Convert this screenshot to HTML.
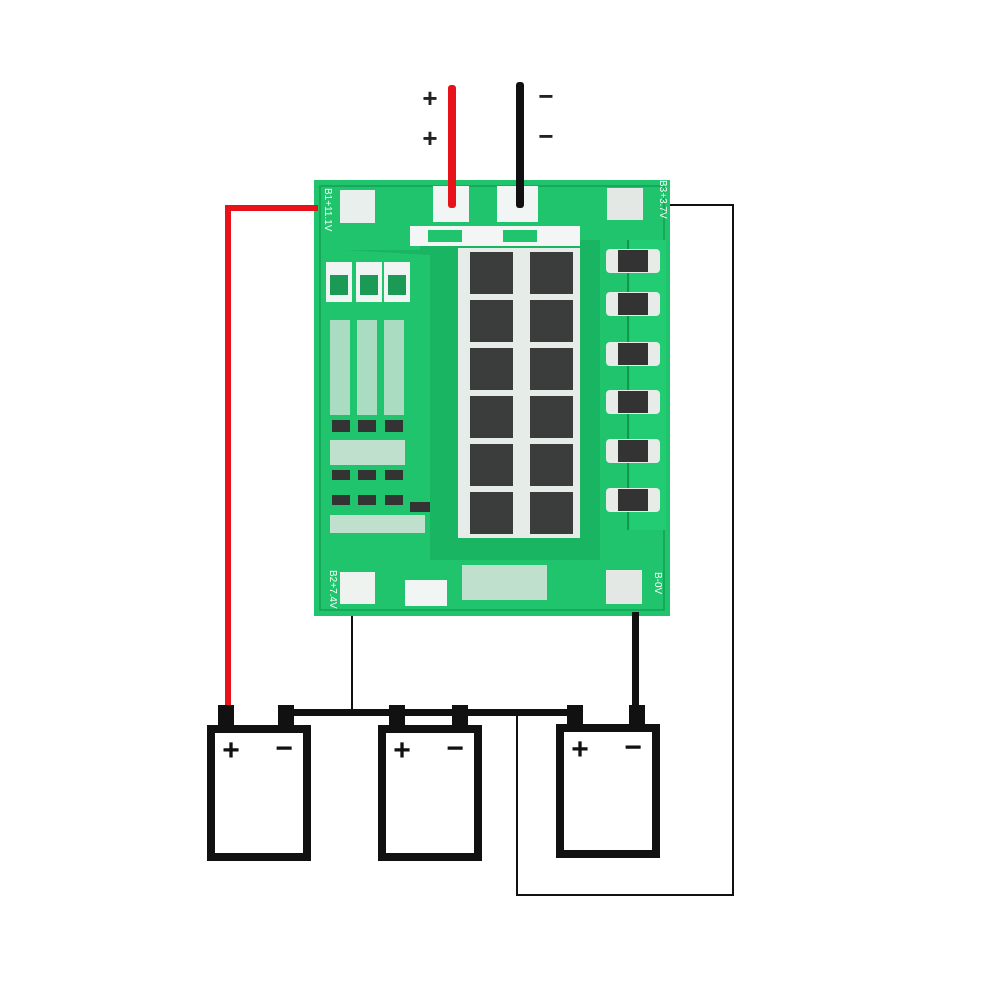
<!DOCTYPE html>
<html><head><style>
body{margin:0;background:#fff}
</style></head><body>
<svg width="1000" height="1000" viewBox="0 0 1000 1000" xmlns="http://www.w3.org/2000/svg">
<rect width="1000" height="1000" fill="#fff"/>
<g stroke="#111" stroke-width="2" fill="none">
<polyline points="668,205 733,205 733,895 517,895 517,712"/>
<line x1="352" y1="612" x2="352" y2="712"/>
</g>
<rect x="314" y="180" width="356" height="436" fill="#1fc46d"/>
<rect x="320" y="186" width="344" height="424" fill="none" stroke="#17a95b" stroke-width="2"/>
<path d="M345 250 L420 250 L420 240 L600 240 L600 560 L430 560 L430 255 Z" fill="#19b562"/>
<rect x="630" y="240" width="36" height="290" fill="#22cc73"/>
<line x1="628" y1="240" x2="628" y2="530" stroke="#14964f" stroke-width="2"/>
<rect x="340" y="190" width="35" height="33" fill="#e8efec"/>
<rect x="433" y="186" width="36" height="36" fill="#f1f5f3"/>
<rect x="497" y="186" width="41" height="36" fill="#f1f5f3"/>
<rect x="607" y="188" width="36" height="32" fill="#e4e8e4"/>
<rect x="410" y="226" width="170" height="20" fill="#f4f6f5"/>
<rect x="428" y="230" width="34" height="12" fill="#1fc46d"/>
<rect x="503" y="230" width="34" height="12" fill="#1fc46d"/>
<rect x="340" y="572" width="35" height="32" fill="#eef3f0"/>
<rect x="405" y="580" width="42" height="26" fill="#f1f5f3"/>
<rect x="606" y="570" width="36" height="34" fill="#e4e8e4"/>
<g fill="#f0f4f2">
<rect x="326" y="262" width="26" height="40"/><rect x="356" y="262" width="26" height="40"/><rect x="384" y="262" width="26" height="40"/>
</g>
<g fill="#1a9a55">
<rect x="330" y="275" width="18" height="20"/><rect x="360" y="275" width="18" height="20"/><rect x="388" y="275" width="18" height="20"/>
</g>
<g fill="#a9dcc0">
<rect x="330" y="320" width="20" height="95"/><rect x="357" y="320" width="20" height="95"/><rect x="384" y="320" width="20" height="95"/>
</g>
<g fill="#333">
<rect x="332" y="420" width="18" height="12"/><rect x="358" y="420" width="18" height="12"/><rect x="385" y="420" width="18" height="12"/>
<rect x="332" y="470" width="18" height="10"/><rect x="358" y="470" width="18" height="10"/><rect x="385" y="470" width="18" height="10"/>
<rect x="332" y="495" width="18" height="10"/><rect x="358" y="495" width="18" height="10"/><rect x="385" y="495" width="18" height="10"/>
<rect x="410" y="502" width="20" height="10"/>
<rect x="478" y="578" width="20" height="8"/><rect x="525" y="578" width="20" height="8"/>
</g>
<g fill="#bfe0cd">
<rect x="330" y="440" width="75" height="25"/><rect x="330" y="515" width="95" height="18"/>
<rect x="462" y="565" width="85" height="35"/>
</g>
<rect x="458" y="248" width="122" height="290" fill="#e6ece8"/>
<g fill="#3a3d3c">
<rect x="470" y="252" width="43" height="42"/><rect x="530" y="252" width="43" height="42"/>
<rect x="470" y="300" width="43" height="42"/><rect x="530" y="300" width="43" height="42"/>
<rect x="470" y="348" width="43" height="42"/><rect x="530" y="348" width="43" height="42"/>
<rect x="470" y="396" width="43" height="42"/><rect x="530" y="396" width="43" height="42"/>
<rect x="470" y="444" width="43" height="42"/><rect x="530" y="444" width="43" height="42"/>
<rect x="470" y="492" width="43" height="42"/><rect x="530" y="492" width="43" height="42"/>
</g>
<g fill="#e8ece9">
<rect x="606" y="249" width="54" height="24" rx="4"/><rect x="606" y="292" width="54" height="24" rx="4"/>
<rect x="606" y="342" width="54" height="24" rx="4"/><rect x="606" y="390" width="54" height="24" rx="4"/>
<rect x="606" y="439" width="54" height="24" rx="4"/><rect x="606" y="488" width="54" height="24" rx="4"/>
</g>
<g fill="#333">
<rect x="618" y="250" width="30" height="22"/><rect x="618" y="293" width="30" height="22"/>
<rect x="618" y="343" width="30" height="22"/><rect x="618" y="391" width="30" height="22"/>
<rect x="618" y="440" width="30" height="22"/><rect x="618" y="489" width="30" height="22"/>
</g>
<g font-family="Liberation Sans, sans-serif" font-size="10" fill="#fff">
<text transform="translate(325,188) rotate(90)">B1+11.1V</text>
<text transform="translate(660,180) rotate(90)">B3+3.7V</text>
<text transform="translate(330,570) rotate(90)">B2+7.4V</text>
<text transform="translate(655,572) rotate(90)">B-0V</text>
</g>
<rect x="448" y="85" width="8" height="123" rx="3" fill="#e8131a"/>
<rect x="516" y="82" width="8" height="126" rx="3" fill="#111"/>
<g font-family="Liberation Sans, sans-serif" font-size="26" font-weight="bold" fill="#222" text-anchor="middle">
<text x="430" y="107">+</text><text x="430" y="147">+</text>
<text x="546" y="105">−</text><text x="546" y="145">−</text>
</g>
<polyline points="318,208 228,208 228,710" fill="none" stroke="#e8131a" stroke-width="6"/>
<rect x="632" y="612" width="7" height="98" fill="#111"/>
<rect x="292" y="709" width="288" height="7" fill="#111"/>
<g fill="#111">
<rect x="218" y="705" width="16" height="24"/><rect x="278" y="705" width="16" height="24"/>
<rect x="389" y="705" width="16" height="24"/><rect x="452" y="705" width="16" height="24"/>
<rect x="567" y="705" width="16" height="24"/><rect x="629" y="705" width="16" height="24"/>
</g>
<g fill="#fff" stroke="#111" stroke-width="8">
<rect x="211" y="729" width="96" height="128"/>
<rect x="382" y="729" width="96" height="128"/>
<rect x="560" y="728" width="96" height="126"/>
</g>
<g font-family="Liberation Sans, sans-serif" font-size="30" font-weight="bold" fill="#111" text-anchor="middle">
<text x="231" y="760">+</text><text x="284" y="758">−</text>
<text x="402" y="760">+</text><text x="455" y="758">−</text>
<text x="580" y="759">+</text><text x="633" y="757">−</text>
</g>
</svg>
</body></html>
